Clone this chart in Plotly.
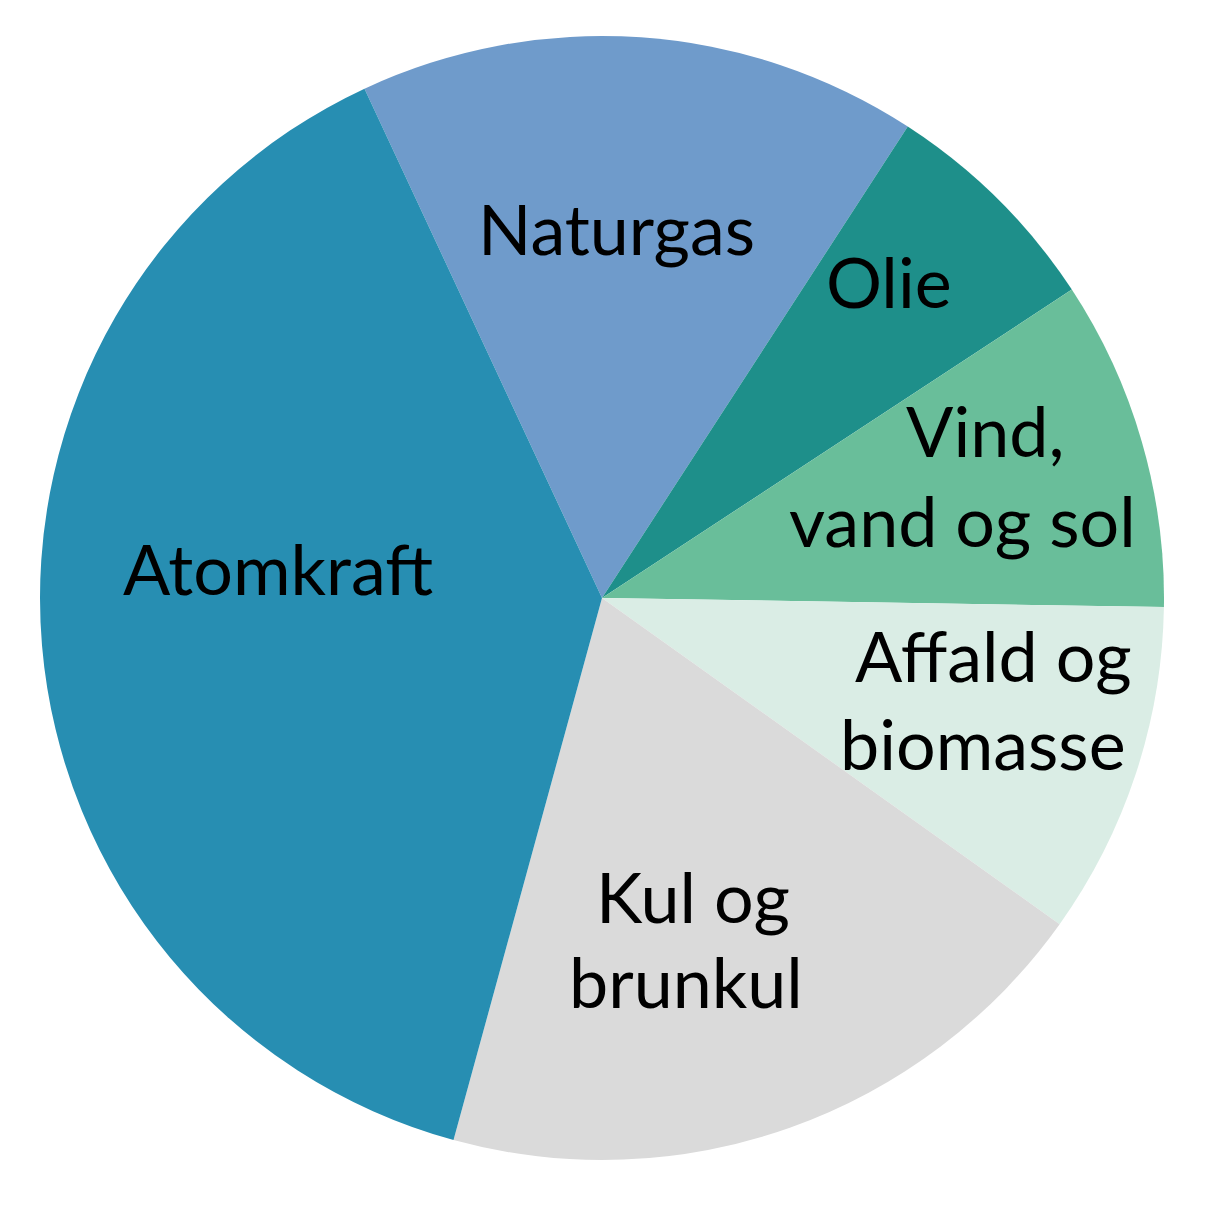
import plotly.graph_objects as go

labels = ["Naturgas", "Olie", "Vind, vand og sol", "Affald og biomasse", "Kul og brunkul", "Atomkraft"]
values = [16.1, 6.6, 9.5, 9.6, 19.4, 38.8]
colors = ["#6F9BCB", "#1E8F8A", "#69BE9A", "#DAEDE5", "#DADADA", "#278EB2"]

# label lines and their positions (pixels in the 1205x1222 page)
text_lines = ["Naturgas", "Olie", "Vind,", "vand og sol", "Affald og", "biomasse", "Kul og", "brunkul", "Atomkraft"]
text_pos = [(616, 228), (889, 281), (985, 430), (962, 520), (993, 655), (983, 743), (693, 896), (686, 981), (278, 568)]

W, H = 1205, 1222
OFF = 8  # default body margin of the html page
cx, cy, r = 602 - OFF, 598 - OFF, 562

fig = go.Figure(go.Pie(
    labels=labels,
    values=values,
    sort=False,
    direction="clockwise",
    rotation=-25,
    marker=dict(colors=colors, line=dict(width=0)),
    textinfo="none",
    hoverinfo="label+percent",
    showlegend=False,
    domain=dict(x=[(cx - r) / W, (cx + r) / W], y=[(H - cy - r) / H, (H - cy + r) / H]),
))

annotations = []
for t, (x, y) in zip(text_lines, text_pos):
    annotations.append(dict(
        text=t, x=(x - OFF) / W, y=1 - (y - OFF) / H, xref="paper", yref="paper",
        showarrow=False, xanchor="center", yanchor="middle",
        font=dict(family="Lato", size=70, color="#000000"),
    ))

fig.update_layout(
    width=W, height=H,
    margin=dict(l=0, r=0, t=0, b=0),
    paper_bgcolor="white", plot_bgcolor="white",
    annotations=annotations,
)

fig.write_html("out.html")
